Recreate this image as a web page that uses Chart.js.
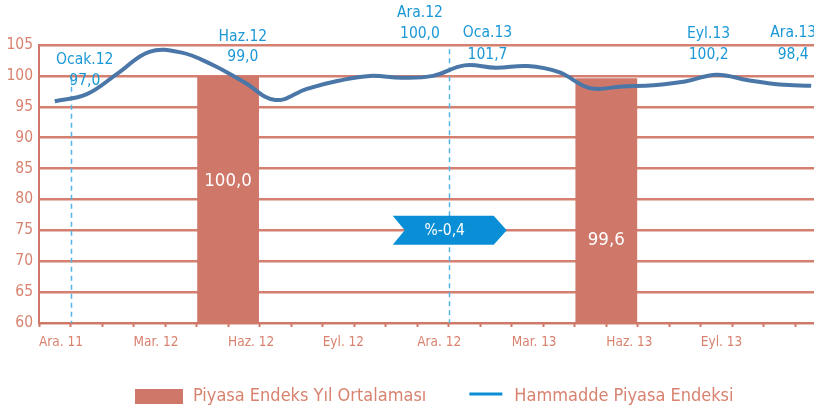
<!DOCTYPE html>
<html>
<head>
<meta charset="utf-8">
<script src="https://cdn.jsdelivr.net/npm/chart.js@4.4.1/dist/chart.umd.min.js"></script>
<style>
  html, body { margin: 0; padding: 0; background: #fff; }
  #wrap { width: 814px; height: 412px; }
</style>
</head>
<body>
<div id="wrap"><canvas id="chart" width="814" height="412"></canvas></div>
<script>
// aylar: 0 = Ara. 11 ... 24 = Ara. 13 (çizgi noktaları ay ortasında)
const tickLabels = ['Ara. 11', '', '', 'Mar. 12', '', '', 'Haz. 12', '', '', 'Eyl. 12', '', '',
                    'Ara. 12', '', '', 'Mar. 13', '', '', 'Haz. 13', '', '', 'Eyl. 13', '', '', ''];
const endeks = [95.9, 97.0, 100.4, 103.9, 103.8, 101.8, 99.0, 96.1, 97.9, 99.2, 100.0, 99.7, 100.0,
                101.7, 101.3, 101.6, 100.6, 98.0, 98.3, 98.5, 99.1, 100.2, 99.3, 98.6, 98.4];
const yilOrtAy = [6, 18];          // Haz. 12, Haz. 13
const yilOrt = [100.0, 99.6];
const notAy = [1, 6, 12, 13, 21, 24];
const notAd = ['Ocak.12', 'Haz.12', 'Ara.12', 'Oca.13', 'Eyl.13', 'Ara.13'];
const yilBasi = [1, 13];           // Oca. 12, Oca. 13

const FONT = '"Liberation Sans Narrow", "Arial Narrow", "DejaVu Sans Condensed", sans-serif';
const SALMON = '#cf786a';
const GRID = '#d47f6f';
const SALMON_TXT = '#d8826f';
const BLUE = '#1a98d6';
const LINE_BLUE = '#4a77a8';

// yerleşim (piksel)
const notYer = [
  { dx: -1.5, y1: 60, y2: 81 },
  { dx: -1, y1: 37, y2: 57 },
  { dx: -13, y1: 13, y2: 34 },
  { dx: 23, y1: 33, y2: 55 },
  { dx: -8, y1: 34, y2: 55 },
  { dx: -18, y1: 33, y2: 55 }
];
const barYaziY = [83, 73.4];       // değer ekseninde
const kesikUst = [99.7, 104.3];

const fmt = v => v.toFixed(1).replace('.', ',');

const extras = {
  id: 'extras',
  beforeDatasetsDraw(chart) {
    const { ctx, scales: { x, y } } = chart;
    ctx.save();
    ctx.strokeStyle = '#55b4e8';
    ctx.lineWidth = 1.5;
    ctx.setLineDash([5, 4]);
    yilBasi.forEach((m, k) => {
      const px = Math.round(x.getPixelForValue(m)) + 0.5;
      ctx.beginPath();
      ctx.moveTo(px, y.getPixelForValue(kesikUst[k]));
      ctx.lineTo(px, y.getPixelForValue(60));
      ctx.stroke();
    });
    ctx.restore();
  },
  afterDatasetsDraw(chart) {
    const { ctx, scales: { x, y } } = chart;
    ctx.save();

    // yıl ortalaması değerleri
    ctx.fillStyle = '#fff';
    ctx.font = '18.5px ' + FONT;
    ctx.textAlign = 'center';
    ctx.textBaseline = 'middle';
    chart.getDatasetMeta(1).data.forEach((bar, k) => {
      ctx.fillText(fmt(yilOrt[k]), bar.x, y.getPixelForValue(barYaziY[k]));
    });

    // değişim oku
    const cx = x.getPixelForValue(13), cy = y.getPixelForValue(75);
    const L = cx - 56, R = cx + 58, T = cy - 14.5, B = cy + 14.5;
    ctx.fillStyle = '#0a8fd6';
    ctx.beginPath();
    ctx.moveTo(L, T);
    ctx.lineTo(R - 13, T);
    ctx.lineTo(R, cy);
    ctx.lineTo(R - 13, B);
    ctx.lineTo(L, B);
    ctx.lineTo(L + 12, cy);
    ctx.closePath();
    ctx.fill();
    const degisim = (yilOrt[1] - yilOrt[0]) / yilOrt[0] * 100;
    ctx.fillStyle = '#fff';
    ctx.font = '15.5px ' + FONT;
    ctx.fillText('%' + fmt(degisim), cx - 4, cy + 1);

    // notlar
    ctx.fillStyle = BLUE;
    ctx.font = '15.5px ' + FONT;
    notAy.forEach((m, k) => {
      const px = x.getPixelForValue(m + 0.5) + notYer[k].dx;
      ctx.fillText(notAd[k], px, notYer[k].y1);
      ctx.fillText(fmt(endeks[m]), px, notYer[k].y2);
    });

    // lejant
    ctx.font = '18px ' + FONT;
    ctx.textAlign = 'left';
    let lx = 135;
    const ly = 396;
    ctx.fillStyle = SALMON;
    ctx.fillRect(lx, 389, 48, 15);
    lx += 58;
    ctx.fillStyle = SALMON_TXT;
    const t1 = chart.data.datasets[1].label;
    ctx.fillText(t1, lx, ly);
    lx += ctx.measureText(t1).width + 43;
    ctx.strokeStyle = '#0a8fd6';
    ctx.lineWidth = 3;
    ctx.beginPath();
    ctx.moveTo(lx, 394);
    ctx.lineTo(lx + 33, 394);
    ctx.stroke();
    lx += 45;
    ctx.fillText(chart.data.datasets[0].label, lx, ly);

    ctx.restore();
  }
};

new Chart(document.getElementById('chart'), {
  type: 'bar',
  data: {
    datasets: [
      {
        type: 'line',
        label: 'Hammadde Piyasa Endeksi',
        data: endeks.map((v, i) => ({ x: i + 0.5, y: v })),
        borderColor: LINE_BLUE,
        borderWidth: 4,
        pointRadius: 0,
        tension: 0.4,
        order: 1
      },
      {
        type: 'bar',
        label: 'Piyasa Endeks Yıl Ortalaması',
        data: yilOrtAy.map((m, k) => ({ x: m, y: yilOrt[k] })),
        backgroundColor: SALMON,
        barPercentage: 1.96,
        categoryPercentage: 1,
        order: 2
      }
    ]
  },
  options: {
    responsive: false,
    animation: false,
    layout: { padding: { top: 45, bottom: 59, left: 0, right: 0 } },
    plugins: { legend: { display: false }, tooltip: { enabled: false } },
    scales: {
      x: {
        type: 'linear',
        min: 0,
        max: 24.59,
        offset: false,
        afterFit: s => { s.height = 30; },
        ticks: {
          stepSize: 1,
          includeBounds: false,
          autoSkip: false,
          maxRotation: 0,
          align: 'start',
          padding: 7,
          color: SALMON_TXT,
          font: { family: FONT, size: 13.5 },
          callback: v => tickLabels[Math.round(v)] ?? ''
        },
        grid: { offset: false, drawOnChartArea: false, drawTicks: true, tickLength: 4, tickWidth: 2, tickColor: SALMON },
        border: { color: SALMON, width: 2 }
      },
      y: {
        min: 60,
        max: 105,
        afterFit: s => { s.width = 39; },
        ticks: {
          stepSize: 5,
          padding: 6,
          color: SALMON_TXT,
          font: { family: FONT, size: 15.5 }
        },
        grid: { color: GRID, lineWidth: 2.5, drawTicks: false },
        border: { color: SALMON, width: 2 }
      }
    }
  },
  plugins: [extras]
});
</script>
</body>
</html>
